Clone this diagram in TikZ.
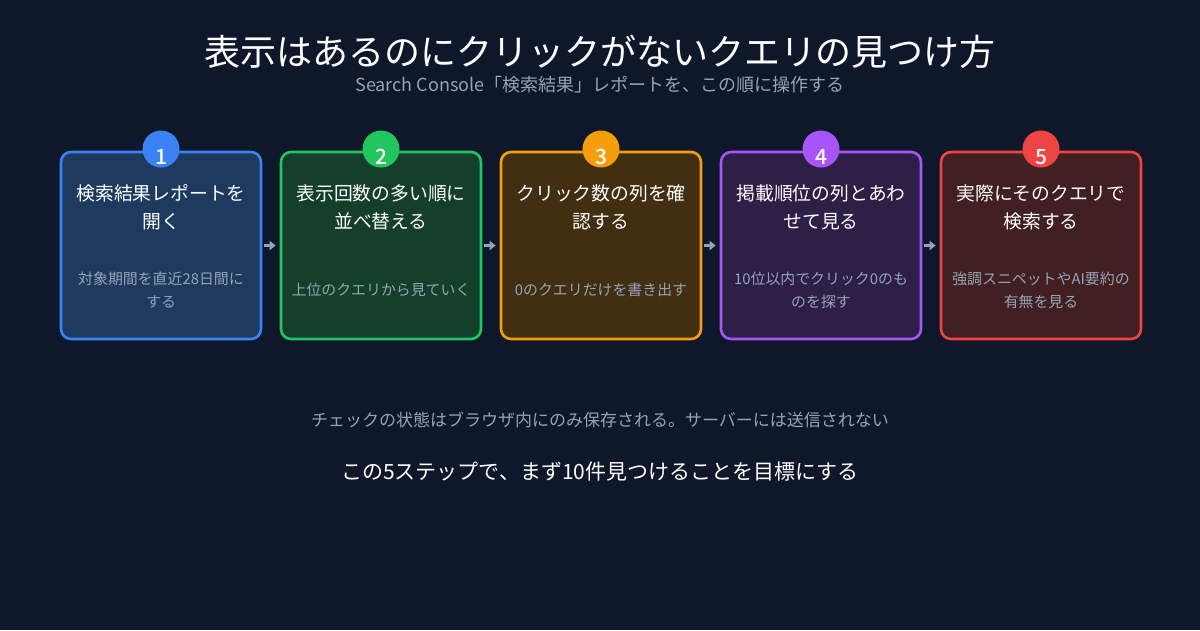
\documentclass[tikz,border=0pt]{standalone}
\usepackage{fontspec}
\setmainfont{Noto Sans CJK JP}
\newfontfamily\cjkmed{Noto Sans CJK JP Medium}
\usetikzlibrary{arrows.meta}
\definecolor{bg}{HTML}{0F172A}
\definecolor{muted}{HTML}{94A3B8}
\definecolor{fA}{HTML}{1E3A5F}\definecolor{sA}{HTML}{3B82F6}
\definecolor{fB}{HTML}{14402B}\definecolor{sB}{HTML}{22C55E}
\definecolor{fC}{HTML}{422F12}\definecolor{sC}{HTML}{F59E0B}
\definecolor{fD}{HTML}{2D1F45}\definecolor{sD}{HTML}{A855F7}
\definecolor{fE}{HTML}{421F20}\definecolor{sE}{HTML}{EF4444}
\tikzset{
  card/.style={draw=#1, line width=2.6pt, rounded corners=10pt, minimum width=200pt, minimum height=187pt, inner sep=0pt},
  badge/.style={circle, fill=#1, minimum size=37pt, inner sep=0pt},
  bnum/.style={text=white, inner sep=0pt, font=\cjkmed\fontsize{21}{22}\selectfont},
  ctitle/.style={text=white, align=center, font=\fontsize{18.8}{28}\selectfont},
  csub/.style={text=muted, align=center, font=\fontsize{14.9}{23}\selectfont},
  conn/.style={draw=muted, line width=2.5pt, -{Triangle[length=6pt,width=9pt]}},
}
\begin{document}
\begin{tikzpicture}[x=1pt,y=-1pt]
\fill[bg] (0,0) rectangle (1200,630);
\useasboundingbox (0,0) rectangle (1200,630);
\node[text=white, font=\fontsize{36}{40}\selectfont] (title) at (600,52) {表示はあるのにクリックがないクエリの見つけ方};
\node[text=muted, font=\fontsize{18}{20}\selectfont] (subtitle) at (600,85) {Search Console「検索結果」レポートを、この順に操作する};
% cards
\foreach \i/\x/\f/\s in {1/161/fA/sA,2/381/fB/sB,3/601/fC/sC,4/821/fD/sD,5/1041/fE/sE}{
  \node[card=\s, fill=\f] (c\i) at (\x,245.5) {};
}
\foreach \i/\x/\s in {1/161/sA,2/381/sB,3/601/sC,4/821/sD,5/1041/sE}{
  \node[badge=\s] (b\i) at (\x,149) {};
  \node[bnum] (n\i) at (\x,157) {\i};
}
\node[ctitle] (t1) at (161,207) {検索結果レポートを\\開く};
\node[ctitle] (t2) at (381,207) {表示回数の多い順に\\並べ替える};
\node[ctitle] (t3) at (601,207) {クリック数の列を確\\認する};
\node[ctitle] (t4) at (821,207) {掲載順位の列とあわ\\せて見る};
\node[ctitle] (t5) at (1041,207) {実際にそのクエリで\\検索する};
\node[csub] (s1) at (161,290) {対象期間を直近28日間に\\する};
\node[csub] (s2) at (381,290) {上位のクエリから見ていく};
\node[csub] (s3) at (601,290) {0のクエリだけを書き出す};
\node[csub] (s4) at (821,290) {10位以内でクリック0のも\\のを探す};
\node[csub] (s5) at (1041,290) {強調スニペットやAI要約の\\有無を見る};
% connectors
\foreach \a/\b in {1/2,2/3,3/4,4/5}{
  \draw[conn] ([xshift=2pt]c\a.east) -- ([xshift=-4pt]c\b.west);
}
\node[text=muted, font=\fontsize{17}{18}\selectfont] (note) at (600,420) {チェックの状態はブラウザ内にのみ保存される。サーバーには送信されない};
\node[text=white, font=\fontsize{21}{24}\selectfont] (goal) at (600,472) {この5ステップで、まず10件見つけることを目標にする};
\end{tikzpicture}
\end{document}
